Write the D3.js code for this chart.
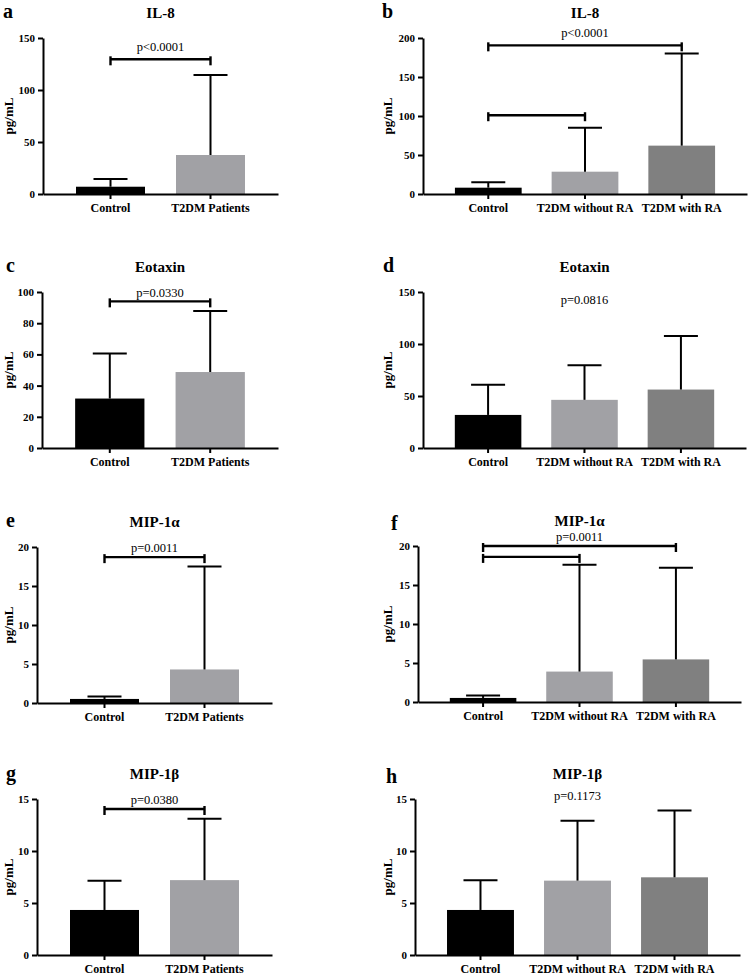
<!DOCTYPE html>
<meta charset="utf-8">
<title>Cytokine levels, control vs T2DM</title>
<style>
body { margin: 0; background: #fff; }
svg { display: block; }
svg text { font-family: "Liberation Serif", "Tinos", "DejaVu Serif", serif; fill: #000; }
.axis path, .axis line { stroke: #000; stroke-width: 2; }
.axis text { font-size: 11px; font-weight: bold; }
.xaxis text { font-size: 12px; }
</style>
<svg width="750" height="975"></svg>
<script src="https://d3js.org/d3.v7.min.js"></script>
<script>

// groups
var groups2 = ["Control", "T2DM Patients"];
var groups3 = ["Control", "T2DM without RA", "T2DM with RA"];

// IL-8 (mean, SD)
var il8Mean2 = [7.0, 37.5];
var il8Sd2 = [7.4, 77.0];
var il8Mean3 = [8.1, 28.6, 62.0];
var il8Sd3 = [6.9, 56.4, 118.0];

// Eotaxin
var eotMean2 = [31.7, 48.7];
var eotSd2 = [28.8, 39.1];
var eotMean3 = [31.8, 46.3, 56.2];
var eotSd3 = [28.9, 33.3, 51.4];

// MIP-1a
var mipaMean2 = [0.52, 4.3];
var mipaSd2 = [0.31, 13.2];
var mipaMean3 = [0.52, 3.9, 5.46];
var mipaSd3 = [0.31, 13.7, 11.74];

// MIP-1b
var mipbMean2 = [4.33, 7.2];
var mipbSd2 = [2.81, 5.9];
var mipbMean3 = [4.33, 7.15, 7.47];
var mipbSd3 = [2.85, 5.75, 6.43];

// significance brackets: [from group, to group, height in pg/mL]
var il8Brackets2 = [[0, 1, 129.5]];
var il8Brackets3 = [[0, 2, 190.6], [0, 1, 101]];
var eotBrackets2 = [[0, 1, 94]];
var mipaBrackets2 = [[0, 1, 18.7]];
var mipaBrackets3 = [[0, 2, 20.0], [0, 1, 18.6]];
var mipbBrackets2 = [[0, 1, 14.04]];

var pTexts = ["p<0.0001", "p<0.0001", "p=0.0330", "p=0.0816", "p=0.0011", "p=0.0011", "p=0.0380", "p=0.1173"];
var pHeights = [137.8, 201, 96.6, 138, 19.35, 20.65, 14.5, 14.9];

var yMaxes = [150, 200, 100, 150, 20, 20, 15, 15];
var ySteps = [50, 50, 20, 50, 5, 5, 5, 5];

var panels = [
  {id: "a", title: "IL-8", groups: groups2, mean: il8Mean2, sd: il8Sd2, brackets: il8Brackets2},
  {id: "b", title: "IL-8", groups: groups3, mean: il8Mean3, sd: il8Sd3, brackets: il8Brackets3},
  {id: "c", title: "Eotaxin", groups: groups2, mean: eotMean2, sd: eotSd2, brackets: eotBrackets2},
  {id: "d", title: "Eotaxin", groups: groups3, mean: eotMean3, sd: eotSd3, brackets: []},
  {id: "e", title: "MIP-1\u03b1", groups: groups2, mean: mipaMean2, sd: mipaSd2, brackets: mipaBrackets2},
  {id: "f", title: "MIP-1\u03b1", groups: groups3, mean: mipaMean3, sd: mipaSd3, brackets: mipaBrackets3},
  {id: "g", title: "MIP-1\u03b2", groups: groups2, mean: mipbMean2, sd: mipbSd2, brackets: mipbBrackets2},
  {id: "h", title: "MIP-1\u03b2", groups: groups3, mean: mipbMean3, sd: mipbSd3, brackets: []}
];

var color = d3.scaleOrdinal()
  .domain(["Control", "T2DM Patients", "T2DM without RA", "T2DM with RA"])
  .range(["#000000", "#a1a1a5", "#a1a1a5", "#808080"]);

// where each panel sits on the page
var layout = [
  {x: 43, y: 38, w: 235, lx: 3, ly: 18, ax: 13},
  {x: 423, y: 38, w: 324, lx: 382, ly: 18, ax: 392},
  {x: 42, y: 292, w: 236, lx: 6, ly: 272, ax: 13},
  {x: 423, y: 292, w: 323, lx: 383, ly: 272, ax: 392},
  {x: 37, y: 547, w: 235, lx: 6, ly: 527, ax: 13},
  {x: 418, y: 546, w: 323, lx: 391, ly: 530, ax: 392},
  {x: 37, y: 799, w: 235, lx: 6, ly: 780, ax: 13},
  {x: 415, y: 799, w: 325, lx: 386, ly: 783, ax: 392}
];
var plotH = 156;

var svg = d3.select("svg");

panels.forEach(function(p, i) {
  var L = layout[i];
  var g = svg.append("g").attr("transform", "translate(" + L.x + "," + L.y + ")");

  var x = d3.scaleBand()
    .domain(p.groups)
    .range([0, L.w])
    .paddingInner(0.31)
    .paddingOuter(0.33);
  var y = d3.scaleLinear()
    .domain([0, yMaxes[i]])
    .range([plotH, 0]);
  var cx = function(k) { return x(p.groups[k]) + x.bandwidth() / 2; };

  //bars
  g.selectAll("rect")
    .data(p.groups)
    .enter().append("rect")
    .attr("x", function(d) { return x(d); })
    .attr("width", x.bandwidth())
    .attr("y", function(d, k) { return y(p.mean[k]); })
    .attr("height", function(d, k) { return plotH - y(p.mean[k]); })
    .attr("fill", function(d) { return color(d); });

  //error bars (mean + SD only)
  var eb = g.selectAll(".err")
    .data(p.groups)
    .enter().append("g")
    .attr("class", "err");
  eb.append("line")
    .attr("x1", function(d, k) { return cx(k); })
    .attr("x2", function(d, k) { return cx(k); })
    .attr("y1", function(d, k) { return y(p.mean[k]); })
    .attr("y2", function(d, k) { return y(p.mean[k] + p.sd[k]); })
    .attr("stroke", "#000").attr("stroke-width", 2);
  eb.append("line")
    .attr("x1", function(d, k) { return cx(k) - 17; })
    .attr("x2", function(d, k) { return cx(k) + 17; })
    .attr("y1", function(d, k) { return y(p.mean[k] + p.sd[k]); })
    .attr("y2", function(d, k) { return y(p.mean[k] + p.sd[k]); })
    .attr("stroke", "#000").attr("stroke-width", 2);

  //axes
  g.append("g")
    .attr("class", "axis")
    .call(d3.axisLeft(y)
      .tickValues(d3.range(0, yMaxes[i] + 0.001, ySteps[i]))
      .tickSize(5).tickSizeOuter(0).tickPadding(3))
    .attr("font-family", null);

  g.append("g")
    .attr("class", "axis xaxis")
    .attr("transform", "translate(0," + plotH + ")")
    .call(d3.axisBottom(x).tickSize(5).tickSizeOuter(0).tickPadding(4))
    .attr("font-family", null);

  //brackets
  p.brackets.forEach(function(b) {
    var by = y(b[2]);
    var x1 = cx(b[0]), x2 = cx(b[1]);
    g.append("line").attr("x1", x1).attr("x2", x2).attr("y1", by).attr("y2", by)
      .attr("stroke", "#000").attr("stroke-width", 2.4);
    [x1, x2].forEach(function(xx) {
      g.append("line").attr("x1", xx).attr("x2", xx).attr("y1", by - 3).attr("y2", by + 6)
        .attr("stroke", "#000").attr("stroke-width", 2.4);
    });
  });

  //p value
  var px = p.brackets.length ? (cx(p.brackets[0][0]) + cx(p.brackets[0][1])) / 2 : L.w / 2;
  g.append("text")
    .attr("x", px)
    .attr("y", y(pHeights[i]))
    .attr("text-anchor", "middle")
    .attr("font-size", "12.5px")
    .text(pTexts[i]);

  //title
  g.append("text")
    .attr("x", L.w / 2)
    .attr("y", -20)
    .attr("text-anchor", "middle")
    .attr("font-size", "15px")
    .attr("font-weight", "bold")
    .text(p.title);

  //y label
  svg.append("text")
    .attr("transform", "translate(" + L.ax + "," + (L.y + plotH / 2) + ") rotate(-90)")
    .attr("text-anchor", "middle")
    .attr("font-size", "13px")
    .attr("font-weight", "bold")
    .text("pg/mL");

  //panel letter
  svg.append("text")
    .attr("x", L.lx)
    .attr("y", L.ly)
    .attr("font-size", "20px")
    .attr("font-weight", "bold")
    .text(p.id);
});

</script>
